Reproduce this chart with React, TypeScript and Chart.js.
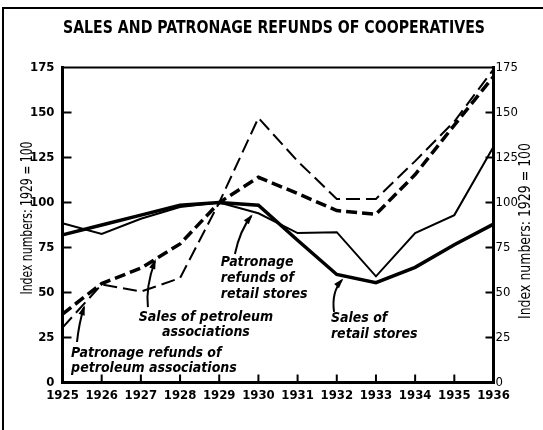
import React, { useEffect, useRef } from "react";
import { Chart, registerables } from "chart.js";

Chart.register(...registerables);

const years = ["1925", "1926", "1927", "1928", "1929", "1930", "1931", "1932", "1933", "1934", "1935", "1936"];
const salesRetail = [82, 87.5, 93, 98.5, 100, 98.5, 79, 60, 55.5, 64, 76.5, 88];
const patronageRetail = [88.5, 82.5, 91, 97.5, 100, 94, 83, 83.5, 59, 83, 93, 131];
const salesPetroleum = [38, 55, 63.5, 77, 100, 114, 105, 95.5, 93.5, 115.5, 143, 170];
const patronagePetroleum = [30.5, 54.5, 50.5, 58, 100, 147, 123, 102, 102, 123, 145, 174];
const yTicks = [0, 25, 50, 75, 100, 125, 150, 175];

const titleText = "SALES AND PATRONAGE REFUNDS OF COOPERATIVES";
const axisTitle = "Index numbers: 1929 = 100";

// annotations in data space: [yearOffset from 1925, value]
const notes = [
  { lines: ["Patronage", "refunds of", "retail stores"], x: 4.04, ys: [66.9, 58, 49.2], align: "left",
    arrow: [[4.4, 71.4], [4.53, 84.7], [4.82, 92.5]] },
  { lines: ["Sales of petroleum", "associations"], x: 3.66, ys: [36.4, 28.1], align: "center",
    arrow: [[2.18, 41.9], [2.12, 53], [2.36, 67.5]] },
  { lines: ["Patronage refunds of", "petroleum associations"], x: 0.22, ys: [16.4, 8.1], align: "left",
    arrow: [[0.37, 22.5], [0.42, 33], [0.55, 41.9]] },
  { lines: ["Sales of", "retail stores"], x: 6.85, ys: [35.8, 26.9], align: "left",
    arrow: [[6.93, 39.2], [6.86, 50.3], [7.13, 56.9]] },
];

const COND = "'DejaVu Sans Condensed', 'DejaVu Sans', sans-serif";

// draw text with a given font size, squeezed horizontally to a target length
function drawFitted(ctx: CanvasRenderingContext2D, text: string, font: string, target: number) {
  ctx.font = font;
  const w = ctx.measureText(text).width;
  ctx.save();
  ctx.scale(target / w, 1);
  ctx.textAlign = "center";
  ctx.textBaseline = "middle";
  ctx.fillText(text, 0, 0);
  ctx.restore();
}

const decorPlugin = {
  id: "decor",
  beforeDraw(chart: any) {
    const ctx = chart.ctx;
    ctx.save();
    ctx.fillStyle = "#fff";
    ctx.fillRect(0, 0, chart.width, chart.height);
    ctx.restore();
  },
  afterDraw(chart: any) {
    const ctx: CanvasRenderingContext2D = chart.ctx;
    const { left, right, top, bottom } = chart.chartArea;
    const xs = chart.scales.x;
    const ys = chart.scales.y;
    ctx.save();
    ctx.strokeStyle = "#000";
    ctx.fillStyle = "#000";
    // outer frame
    ctx.lineWidth = 2;
    ctx.beginPath();
    ctx.moveTo(3, chart.height);
    ctx.lineTo(3, 8);
    ctx.lineTo(chart.width, 8);
    ctx.stroke();
    // title
    ctx.save();
    ctx.translate(274, 29);
    drawFitted(ctx, titleText, `bold 17px ${COND}`, 422);
    ctx.restore();
    // plot frame
    ctx.lineCap = "square";
    ctx.lineWidth = 2;
    ctx.beginPath();
    ctx.moveTo(left, top);
    ctx.lineTo(right, top);
    ctx.stroke();
    ctx.lineWidth = 3;
    ctx.beginPath();
    ctx.moveTo(left, top);
    ctx.lineTo(left, bottom);
    ctx.lineTo(right, bottom);
    ctx.lineTo(right, top);
    ctx.stroke();
    // inward ticks
    ctx.lineWidth = 2;
    ctx.lineCap = "butt";
    yTicks.forEach((v) => {
      if (v === 0 || v === 175) return;
      const py = ys.getPixelForValue(v);
      ctx.beginPath();
      ctx.moveTo(left, py);
      ctx.lineTo(left + 9, py);
      ctx.moveTo(right, py);
      ctx.lineTo(right - 8, py);
      ctx.stroke();
    });
    years.forEach((_, i) => {
      if (i === 0 || i === years.length - 1) return;
      const px = xs.getPixelForValue(i);
      ctx.beginPath();
      ctx.moveTo(px, bottom);
      ctx.lineTo(px, bottom - 8);
      ctx.stroke();
    });
    // axis titles
    ctx.save();
    ctx.translate(28, 218);
    ctx.rotate(-Math.PI / 2);
    drawFitted(ctx, axisTitle, `500 15px ${COND}`, 153);
    ctx.restore();
    ctx.save();
    ctx.translate(526, 231);
    ctx.rotate(-Math.PI / 2);
    drawFitted(ctx, axisTitle, `500 15px ${COND}`, 176);
    ctx.restore();
    // annotations
    ctx.font = `italic bold 14px ${COND}`;
    ctx.textBaseline = "middle";
    notes.forEach((n) => {
      ctx.textAlign = n.align as CanvasTextAlign;
      const px = xs.getPixelForValue(n.x);
      n.lines.forEach((t, k) => ctx.fillText(t, px, ys.getPixelForValue(n.ys[k])));
      const pts = n.arrow.map(([ax, ay]) => [xs.getPixelForValue(ax), ys.getPixelForValue(ay)]);
      ctx.lineWidth = 2;
      ctx.beginPath();
      ctx.moveTo(pts[0][0], pts[0][1]);
      ctx.quadraticCurveTo(pts[1][0], pts[1][1], pts[2][0], pts[2][1]);
      ctx.stroke();
      const dx = pts[2][0] - pts[1][0];
      const dy = pts[2][1] - pts[1][1];
      const ang = Math.atan2(dy, dx);
      const L = 8, W = 3.2;
      ctx.beginPath();
      ctx.moveTo(pts[2][0] + Math.cos(ang) * 2, pts[2][1] + Math.sin(ang) * 2);
      ctx.lineTo(pts[2][0] - Math.cos(ang) * L - Math.sin(ang) * W, pts[2][1] - Math.sin(ang) * L + Math.cos(ang) * W);
      ctx.lineTo(pts[2][0] - Math.cos(ang) * L + Math.sin(ang) * W, pts[2][1] - Math.sin(ang) * L - Math.cos(ang) * W);
      ctx.closePath();
      ctx.fill();
    });
    ctx.restore();
  },
};

export default function App() {
  const ref = useRef<HTMLCanvasElement>(null);
  useEffect(() => {
    if (!ref.current) return;
    const chart = new Chart(ref.current, {
      type: "line",
      data: {
        labels: years,
        datasets: [
          { label: "Sales of retail stores", data: salesRetail, borderColor: "#000", borderWidth: 3.5, pointRadius: 0, tension: 0, fill: false },
          { label: "Patronage refunds of retail stores", data: patronageRetail, borderColor: "#000", borderWidth: 2, pointRadius: 0, tension: 0, fill: false },
          { label: "Sales of petroleum associations", data: salesPetroleum, borderColor: "#000", borderWidth: 3.5, borderDash: [11, 5], pointRadius: 0, tension: 0, fill: false },
          { label: "Patronage refunds of petroleum associations", data: patronagePetroleum, borderColor: "#000", borderWidth: 2, borderDash: [14, 6], pointRadius: 0, tension: 0, fill: false },
        ],
      },
      options: {
        responsive: false,
        animation: false,
        events: [],
        layout: { padding: { top: 67.5, left: 0, right: 0, bottom: 0 } },
        plugins: { legend: { display: false }, tooltip: { enabled: false }, title: { display: false } },
        scales: {
          x: {
            type: "category",
            offset: false,
            grid: { display: false, drawTicks: false },
            border: { display: false },
            ticks: { color: "#000", padding: 5, maxRotation: 0, autoSkip: false, font: { family: COND, size: 13, weight: "bold" } },
            afterFit: (s: any) => { s.height = 47.5; },
          },
          y: {
            position: "left",
            min: 0,
            max: 175,
            grid: { display: false, drawTicks: false },
            border: { display: false },
            ticks: { stepSize: 25, color: "#000", padding: 8, font: { family: COND, size: 13, weight: "bold" } },
            afterFit: (s: any) => { s.width = 62.5; },
          },
          y2: {
            position: "right",
            min: 0,
            max: 175,
            display: true,
            grid: { display: false, drawTicks: false },
            border: { display: false },
            ticks: { stepSize: 25, color: "#000", padding: 2, font: { family: COND, size: 13 } },
            afterFit: (s: any) => { s.width = 49.5; },
          },
        },
      },
      plugins: [decorPlugin],
    });
    return () => chart.destroy();
  }, []);
  return (
    <div style={{ position: "absolute", left: 0, top: 0, width: 543, height: 430 }}>
      <canvas ref={ref} width={543} height={430} style={{ display: "block", width: 543, height: 430 }} />
    </div>
  );
}
